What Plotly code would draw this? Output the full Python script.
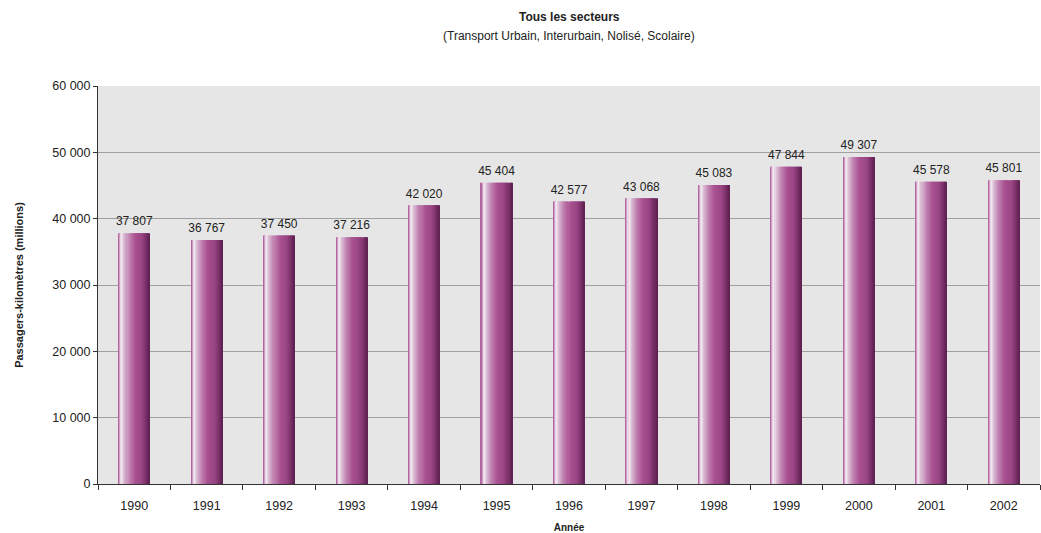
import plotly.graph_objects as go

years = ["1990", "1991", "1992", "1993", "1994", "1995", "1996",
         "1997", "1998", "1999", "2000", "2001", "2002"]
values = [37807, 36767, 37450, 37216, 42020, 45404, 42577,
          43068, 45083, 47844, 49307, 45578, 45801]
y_ticks = [0, 10000, 20000, 30000, 40000, 50000, 60000]

title_main = "Tous les secteurs"
title_sub = "(Transport Urbain, Interurbain, Nolisé, Scolaire)"
y_title = "Passagers-kilomètres (millions)"
x_title = "Année"

FONT = "Liberation Sans, Arial, sans-serif"

def fmt(v):
    return f"{v:,}".replace(",", " ")

# horizontal gradient stops for the cylinder look
stops = [(0.00, (0xa0, 0x48, 0x8a)), (0.04, (0xc8, 0x90, 0xbc)),
         (0.10, (0xf6, 0xf0, 0xf6)), (0.18, (0xdc, 0xc0, 0xd6)),
         (0.35, (0xc0, 0x80, 0xb0)), (0.55, (0xa8, 0x50, 0x90)),
         (0.75, (0x9a, 0x46, 0x84)), (0.90, (0x7a, 0x30, 0x68)),
         (1.00, (0x5c, 0x20, 0x50))]

def color_at(t):
    for (t0, c0), (t1, c1) in zip(stops[:-1], stops[1:]):
        if t0 <= t <= t1:
            f = (t - t0) / (t1 - t0) if t1 > t0 else 0
            c = [round(a + (b - a) * f) for a, b in zip(c0, c1)]
            return f"rgb({c[0]},{c[1]},{c[2]})"
    c = stops[-1][1]
    return f"rgb({c[0]},{c[1]},{c[2]})"

fig = go.Figure()
N = 30
W = 0.43
sw = W / N
for i in range(N):
    t = (i + 0.5) / N
    wi = sw * 1.15 if i < N - 1 else sw
    fig.add_trace(go.Bar(
        x=years, y=values,
        width=wi, offset=-W / 2 + i * sw,
        marker=dict(color=color_at(t), line=dict(width=0)),
        hoverinfo="skip", showlegend=False,
    ))

fig.add_trace(go.Scatter(
    x=years, y=values, mode="markers+text",
    marker=dict(size=6, color="rgba(0,0,0,0)"),
    text=[fmt(v) for v in values], textposition="top center",
    textfont=dict(family=FONT, size=12, color="#222"),
    showlegend=False, hoverinfo="skip", cliponaxis=False,
))

fig.update_layout(
    width=1041, height=533,
    margin=dict(l=98, r=1, t=86, b=49),
    paper_bgcolor="white", plot_bgcolor="#e6e6e6",
    barmode="overlay",
    font=dict(family=FONT, size=12, color="#222"),
    annotations=[
        dict(text="<b>" + title_main + "</b>", xref="paper", yref="paper",
             x=0.5, y=1, yshift=69, showarrow=False, yanchor="middle",
             font=dict(size=12, color="#222")),
        dict(text=title_sub, xref="paper", yref="paper",
             x=0.5, y=1, yshift=50, showarrow=False, yanchor="middle",
             font=dict(size=12, color="#222")),
    ],
)
fig.update_xaxes(
    type="category", range=[-0.5, len(years) - 0.5],
    tickson="boundaries", ticks="outside", ticklen=5,
    tickcolor="#333", showline=True, linecolor="#333", linewidth=1,
    showgrid=False, tickfont=dict(size=12.5), ticklabelstandoff=10,
    title=dict(text="<b>" + x_title + "</b>", font=dict(size=10), standoff=12),
)
fig.update_yaxes(
    range=[0, 60000], tickvals=y_ticks, ticktext=[fmt(v) for v in y_ticks],
    ticks="outside", ticklen=4, tickcolor="#333",
    showline=True, linecolor="#333", linewidth=1,
    showgrid=True, gridcolor="#a0a0a0", gridwidth=1, zeroline=False,
    tickfont=dict(size=12.5),
    title=dict(text="<b>" + y_title + "</b>", font=dict(size=11), standoff=26),
)

fig.write_html("out.html")
